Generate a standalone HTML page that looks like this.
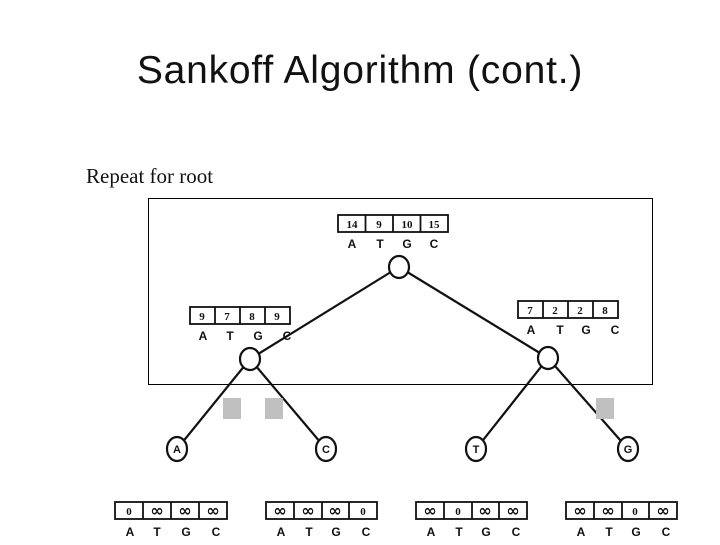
<!DOCTYPE html>
<html><head><style>
body{margin:0;width:720px;height:540px;background:#fff;overflow:hidden}
</style></head><body>
<svg width="720" height="540" xmlns="http://www.w3.org/2000/svg" font-family="Liberation Sans, sans-serif">
<text x="360" y="83" text-anchor="middle" font-size="39" letter-spacing="0.8" fill="#111">Sankoff Algorithm (cont.)</text>
<text x="86" y="183" font-family="Liberation Serif, serif" font-size="21" fill="#111">Repeat for root</text>
<rect x="148.5" y="198.5" width="504" height="186" fill="none" stroke="#000" stroke-width="1"/>
<g stroke="#111" stroke-width="2.2" fill="none">
<line x1="399" y1="267" x2="250" y2="359"/>
<line x1="399" y1="267" x2="548" y2="358"/>
<line x1="250" y1="359" x2="177" y2="449"/>
<line x1="250" y1="359" x2="326" y2="449"/>
<line x1="548" y1="358" x2="476" y2="449"/>
<line x1="548" y1="358" x2="628" y2="449"/>
</g>
<g stroke="#111" stroke-width="2.2" fill="#fff">
<ellipse cx="399" cy="267" rx="10" ry="11"/>
<ellipse cx="250" cy="359" rx="10" ry="11"/>
<ellipse cx="548" cy="358" rx="10" ry="11"/>
<ellipse cx="177" cy="449" rx="10" ry="12"/>
<ellipse cx="326" cy="449" rx="10" ry="12"/>
<ellipse cx="476" cy="449" rx="10" ry="12"/>
<ellipse cx="628" cy="449" rx="10" ry="12"/>
</g>
<g font-size="11" font-weight="bold" text-anchor="middle" fill="#111">
<text x="177" y="453">A</text><text x="326" y="453">C</text><text x="476" y="453">T</text><text x="628" y="453">G</text>
</g>
<g fill="#c0c0c0">
<rect x="223" y="398" width="18" height="21"/>
<rect x="265" y="398" width="18" height="21"/>
<rect x="596" y="398" width="18" height="21"/>
</g>
<g stroke="#111" stroke-width="1.8" fill="none">
<rect x="338" y="215" width="110" height="17"/>
<line x1="365.5" y1="215" x2="365.5" y2="232"/><line x1="393" y1="215" x2="393" y2="232"/><line x1="420.5" y1="215" x2="420.5" y2="232"/>
<rect x="190" y="307" width="100" height="17"/>
<line x1="215" y1="307" x2="215" y2="324"/><line x1="240" y1="307" x2="240" y2="324"/><line x1="265" y1="307" x2="265" y2="324"/>
<rect x="518" y="301" width="100" height="17"/>
<line x1="543" y1="301" x2="543" y2="318"/><line x1="568" y1="301" x2="568" y2="318"/><line x1="593" y1="301" x2="593" y2="318"/>
<rect x="115" y="502" width="112" height="17"/>
<line x1="143" y1="502" x2="143" y2="519"/><line x1="171" y1="502" x2="171" y2="519"/><line x1="199" y1="502" x2="199" y2="519"/>
<rect x="266" y="502" width="111" height="17"/>
<line x1="294" y1="502" x2="294" y2="519"/><line x1="322" y1="502" x2="322" y2="519"/><line x1="349" y1="502" x2="349" y2="519"/>
<rect x="416" y="502" width="111" height="17"/>
<line x1="444" y1="502" x2="444" y2="519"/><line x1="472" y1="502" x2="472" y2="519"/><line x1="499" y1="502" x2="499" y2="519"/>
<rect x="566" y="502" width="111" height="17"/>
<line x1="594" y1="502" x2="594" y2="519"/><line x1="622" y1="502" x2="622" y2="519"/><line x1="649" y1="502" x2="649" y2="519"/>
</g>
<g font-size="11" font-weight="bold" text-anchor="middle" fill="#111" font-family="Liberation Serif, serif">
<text x="352" y="228">14</text><text x="379" y="228">9</text><text x="407" y="228">10</text><text x="434" y="228">15</text>
<text x="202" y="320">9</text><text x="227" y="320">7</text><text x="252" y="320">8</text><text x="277" y="320">9</text>
<text x="530" y="314">7</text><text x="555" y="314">2</text><text x="580" y="314">2</text><text x="605" y="314">8</text>
<text x="129" y="515">0</text><text x="363" y="515">0</text><text x="458" y="515">0</text><text x="635" y="515">0</text>
</g>
<g font-size="16" font-weight="bold" text-anchor="middle" fill="#111" font-family="DejaVu Sans, sans-serif">
<text x="157" y="516">∞</text><text x="185" y="516">∞</text><text x="213" y="516">∞</text>
<text x="280" y="516">∞</text><text x="308" y="516">∞</text><text x="335" y="516">∞</text>
<text x="430" y="516">∞</text><text x="485" y="516">∞</text><text x="513" y="516">∞</text>
<text x="580" y="516">∞</text><text x="608" y="516">∞</text><text x="663" y="516">∞</text>
</g>
<g font-size="12" font-weight="bold" text-anchor="middle" fill="#111">
<text x="352" y="248">A</text><text x="380" y="248">T</text><text x="407" y="248">G</text><text x="434" y="248">C</text>
<text x="203" y="340">A</text><text x="230" y="340">T</text><text x="258" y="340">G</text><text x="287" y="340">C</text>
<text x="531" y="334">A</text><text x="560" y="334">T</text><text x="586" y="334">G</text><text x="615" y="334">C</text>
<text x="130" y="536">A</text><text x="157" y="536">T</text><text x="186" y="536">G</text><text x="216" y="536">C</text>
<text x="281" y="536">A</text><text x="309" y="536">T</text><text x="336" y="536">G</text><text x="366" y="536">C</text>
<text x="431" y="536">A</text><text x="459" y="536">T</text><text x="486" y="536">G</text><text x="516" y="536">C</text>
<text x="581" y="536">A</text><text x="609" y="536">T</text><text x="636" y="536">G</text><text x="666" y="536">C</text>
</g>
</svg>
</body></html>
